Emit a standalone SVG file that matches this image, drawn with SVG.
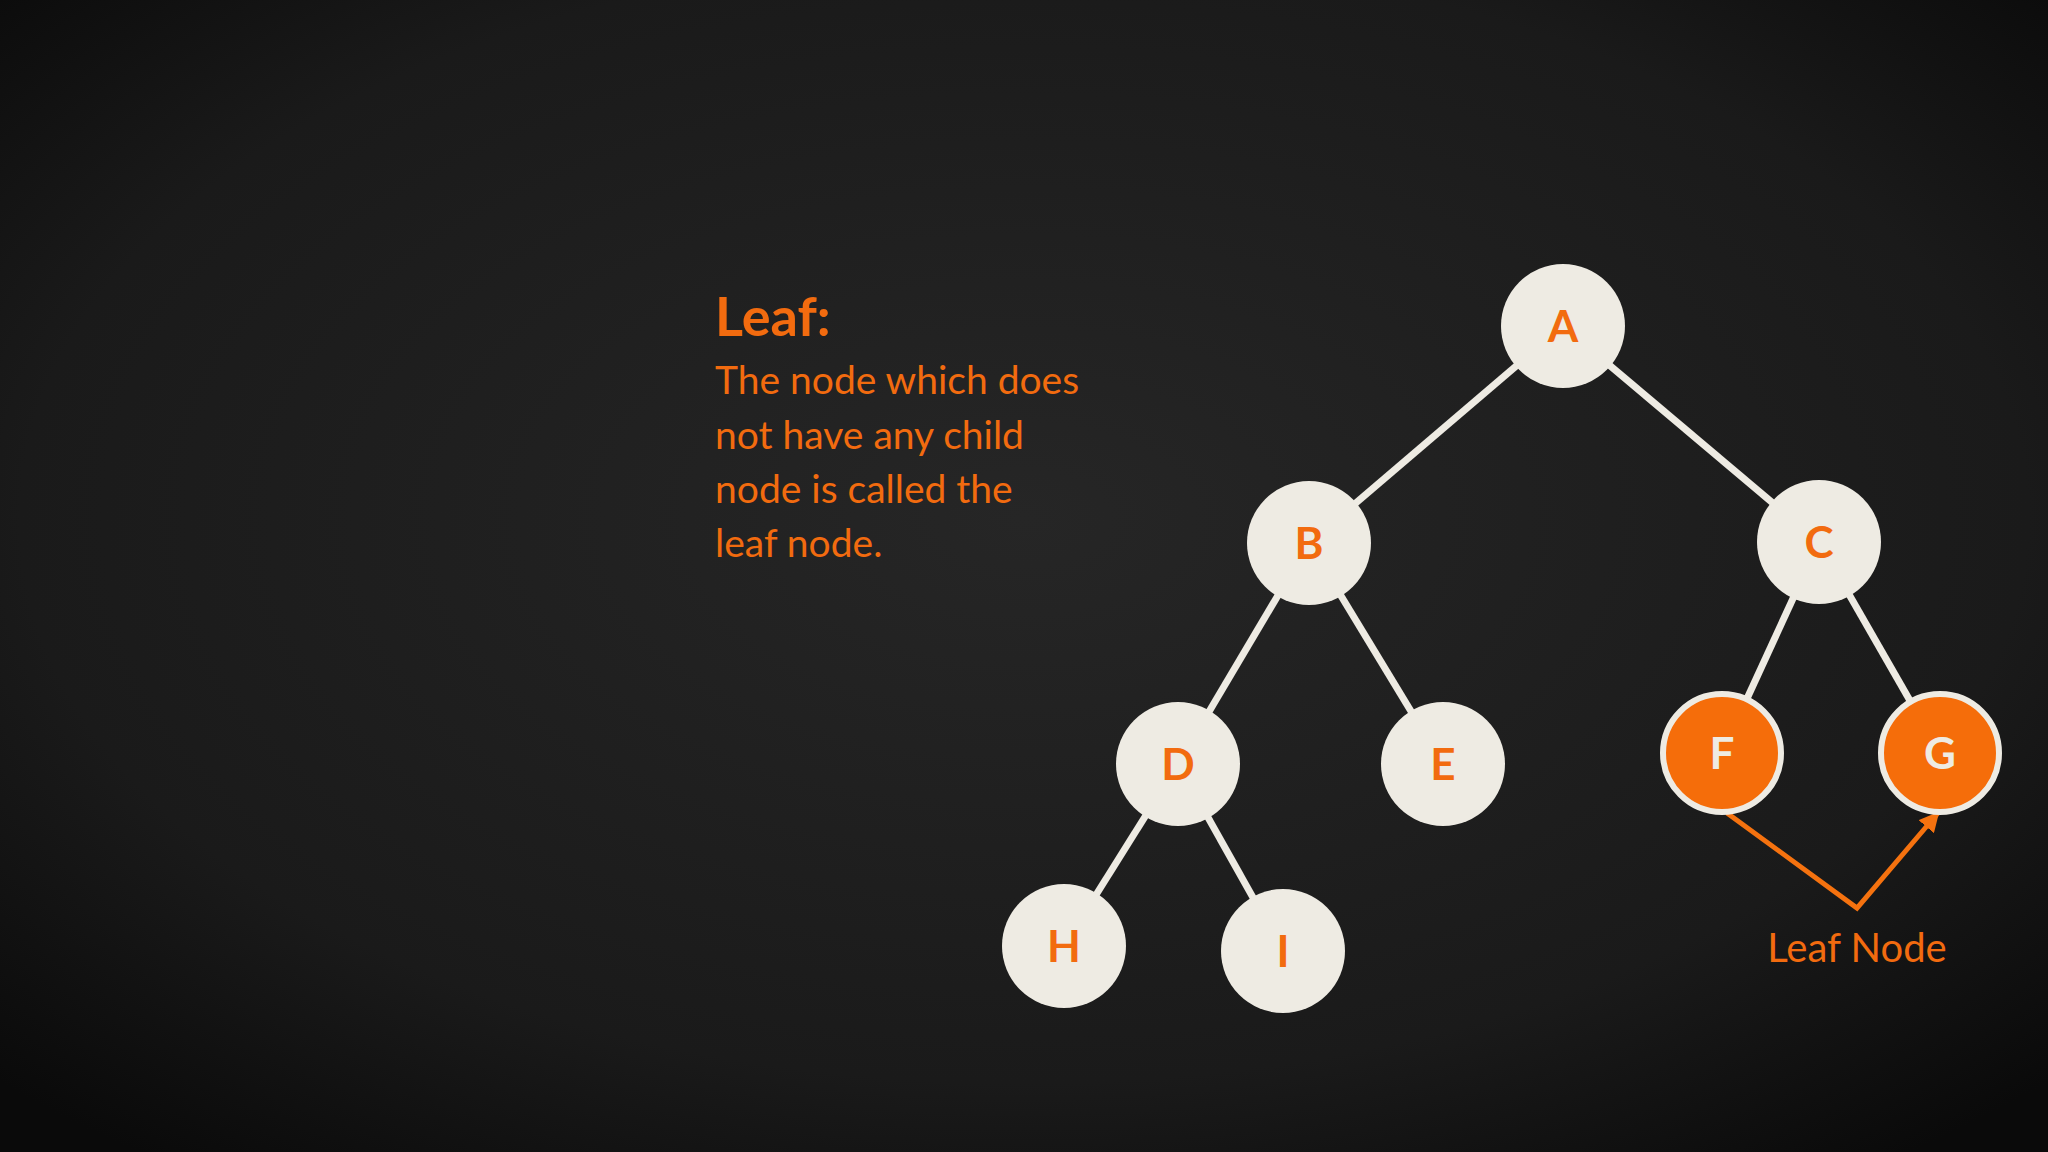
<svg xmlns="http://www.w3.org/2000/svg" width="2048" height="1152" viewBox="0 0 2048 1152">
<defs>
<radialGradient id="bg" cx="50%" cy="45%" r="70%">
<stop offset="0" stop-color="#262626"/><stop offset="0.7" stop-color="#1a1a1a"/><stop offset="1" stop-color="#0a0a0a"/>
</radialGradient>
<marker id="ah" viewBox="0 0 10 10" refX="9" refY="5" markerWidth="4" markerHeight="4" orient="auto"><path d="M0,0 L10,5 L0,10 z" fill="#f5720f"/></marker>
<style>
.n{fill:#eeebe3}
.leaf{fill:#f56d0a;stroke:#eeebe3;stroke-width:6}
.lbl{font-family:Lato,"Liberation Sans",sans-serif;font-weight:bold;font-size:44px;text-anchor:middle;fill:#f26b0f}
.lbl2{font-family:Lato,"Liberation Sans",sans-serif;font-weight:bold;font-size:44px;text-anchor:middle;fill:#eeebe3}
.e{stroke:#eeebe3;stroke-width:7}
.t{font-family:Lato,"Liberation Sans",sans-serif;fill:#f26b0f}
</style>
</defs>
<rect width="2048" height="1152" fill="url(#bg)"/>
<g id="connectors">
<line class="e" x1="1563" y1="326" x2="1309" y2="543"/>
<line class="e" x1="1563" y1="326" x2="1819" y2="542"/>
<line class="e" x1="1309" y1="543" x2="1178" y2="764"/>
<line class="e" x1="1309" y1="543" x2="1443" y2="764"/>
<line class="e" x1="1819" y1="542" x2="1722" y2="753"/>
<line class="e" x1="1819" y1="542" x2="1940" y2="753"/>
<line class="e" x1="1178" y1="764" x2="1064" y2="946"/>
<line class="e" x1="1178" y1="764" x2="1283" y2="951"/>
<polyline points="1727,813 1857,908 1938,813" fill="none" stroke="#f5720f" stroke-width="5" marker-start="url(#ah)" marker-end="url(#ah)"/>
</g>
<g id="A"><circle class="n" cx="1563" cy="326" r="62"/><text class="lbl" x="1563" y="342">A</text></g>
<g id="B"><circle class="n" cx="1309" cy="543" r="62"/><text class="lbl" x="1309" y="559">B</text></g>
<g id="C"><circle class="n" cx="1819" cy="542" r="62"/><text class="lbl" x="1819" y="558">C</text></g>
<g id="D"><circle class="n" cx="1178" cy="764" r="62"/><text class="lbl" x="1178" y="780">D</text></g>
<g id="E"><circle class="n" cx="1443" cy="764" r="62"/><text class="lbl" x="1443" y="780">E</text></g>
<g id="F"><circle class="leaf" cx="1722" cy="753" r="59"/><text class="lbl2" x="1722" y="769">F</text></g>
<g id="G"><circle class="leaf" cx="1940" cy="753" r="59"/><text class="lbl2" x="1940" y="769">G</text></g>
<g id="H"><circle class="n" cx="1064" cy="946" r="62"/><text class="lbl" x="1064" y="962">H</text></g>
<g id="I"><circle class="n" cx="1283" cy="951" r="62"/><text class="lbl" x="1283" y="967">I</text></g>
<g id="leafLabel"><text class="t" x="1857" y="962" font-size="40" text-anchor="middle">Leaf Node</text></g>
<g id="desc">
<text class="t" x="715" y="336" font-size="54" font-weight="bold">Leaf:</text>
<text class="t" font-size="39"><tspan x="715" y="394">The node which does</tspan><tspan x="715" y="449">not have any child</tspan><tspan x="715" y="503">node is called the</tspan><tspan x="715" y="557">leaf node.</tspan></text>
</g>
</svg>
